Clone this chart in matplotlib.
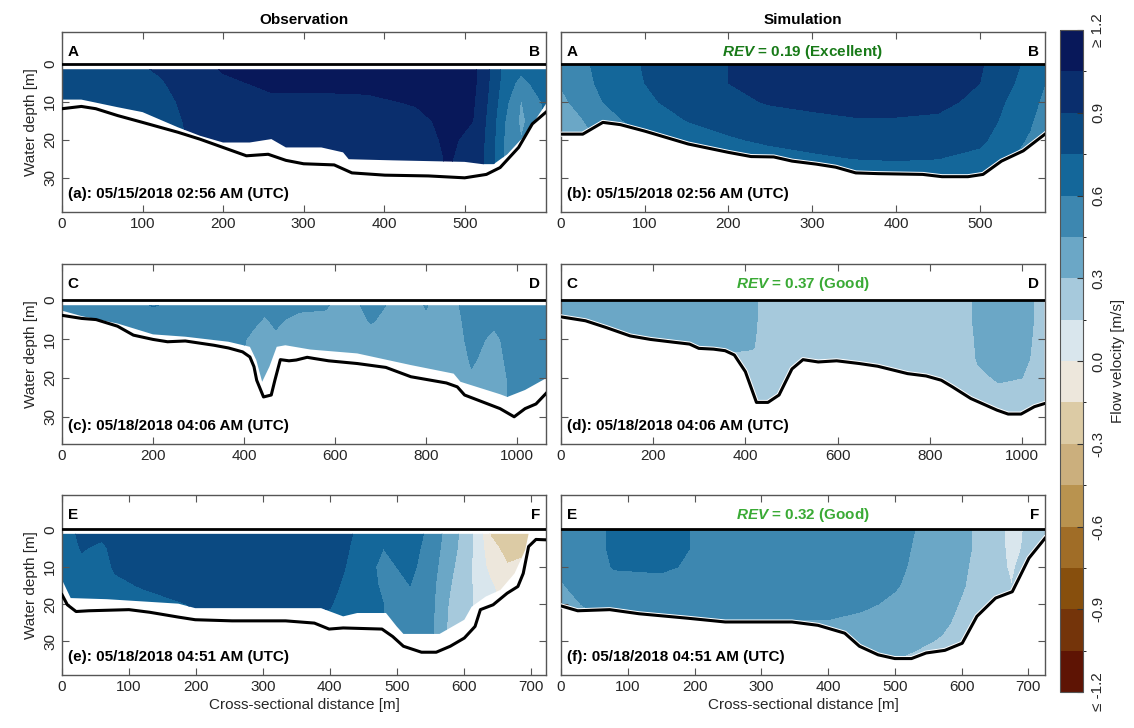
import numpy as np
import matplotlib
matplotlib.use("Agg")
import matplotlib.pyplot as plt
from matplotlib.colors import ListedColormap, BoundaryNorm
from matplotlib.patches import Polygon

plt.rcParams['font.family'] = ['Liberation Sans', 'DejaVu Sans']
plt.rcParams['mathtext.fontset'] = 'custom'
plt.rcParams['mathtext.it'] = 'Liberation Sans:italic:bold'
plt.rcParams['mathtext.rm'] = 'Liberation Sans:bold'

# ---------------- data ----------------
# panel (a) observation, 05/15/2018 02:56
bed_a_x = [0, 24, 42, 69, 100, 144, 171, 200, 229, 256, 278, 300, 338, 360, 401, 455, 500, 527, 544, 567, 584, 601]
bed_a_z = [11.8, 11.2, 11.8, 13.6, 15.4, 18.0, 19.8, 22.0, 24.2, 23.8, 25.4, 26.3, 26.6, 28.7, 29.3, 29.5, 30.0, 29.1, 27.3, 22.0, 15.8, 12.7]
cut_a_x = [0, 24, 69, 100, 144, 171, 200, 233, 260, 278, 322, 349, 356, 411, 500, 522, 536, 553, 576, 601]
cut_a_z = [9.4, 9.4, 11.4, 12.7, 16.7, 18.9, 20.7, 20.7, 19.8, 22.0, 22.0, 23.3, 25.1, 25.4, 25.8, 26.4, 26.4, 23.8, 18.5, 10.5]
grid_a_x = [0, 60, 120, 160, 200, 260, 320, 380, 440, 480, 510, 530, 550, 570, 585, 600]
grid_a_z = [0, 5, 10, 15, 20, 25, 30]
vel_a = [
    [0.82, 0.82, 0.81, 0.80, 0.80, 0.80, 0.80],
    [0.84, 0.83, 0.82, 0.81, 0.80, 0.80, 0.80],
    [0.93, 0.88, 0.85, 0.84, 0.83, 0.83, 0.83],
    [1.00, 0.97, 0.94, 0.92, 0.91, 0.91, 0.91],
    [1.07, 1.03, 0.99, 0.96, 0.95, 0.95, 0.95],
    [1.10, 1.07, 1.03, 0.99, 0.97, 0.96, 0.96],
    [1.12, 1.08, 1.02, 0.99, 0.97, 0.96, 0.96],
    [1.12, 1.08, 1.03, 1.00, 0.98, 0.97, 0.97],
    [1.13, 1.10, 1.06, 1.02, 1.00, 0.99, 0.99],
    [1.14, 1.12, 1.10, 1.08, 1.07, 1.06, 1.06],
    [1.10, 1.09, 1.07, 1.05, 1.02, 1.00, 1.00],
    [0.92, 0.90, 0.88, 0.86, 0.85, 0.85, 0.85],
    [0.70, 0.68, 0.64, 0.60, 0.58, 0.58, 0.58],
    [0.66, 0.55, 0.44, 0.42, 0.45, 0.45, 0.45],
    [0.68, 0.62, 0.55, 0.50, 0.50, 0.50, 0.50],
    [0.70, 0.66, 0.62, 0.60, 0.60, 0.60, 0.60],
]

# panel (b) simulation
bed_b_x = [0, 26, 50, 71, 100, 152, 200, 227, 254, 276, 305, 328, 352, 379, 432, 455, 486, 504, 526, 552, 578]
bed_b_z = [18.5, 18.5, 15.4, 16.0, 17.7, 21.1, 23.3, 24.4, 24.5, 25.6, 26.4, 27.2, 28.7, 28.9, 29.1, 29.7, 29.7, 29.1, 25.6, 22.9, 18.5]
grid_b_x = [0, 25, 50, 100, 150, 200, 250, 300, 350, 400, 450, 500, 530, 560, 578]
grid_b_z = [0, 5, 10, 15, 20, 25, 30]
vel_b = [
    [0.50, 0.46, 0.42, 0.36, 0.32, 0.30, 0.30],
    [0.56, 0.54, 0.50, 0.44, 0.38, 0.35, 0.35],
    [0.66, 0.64, 0.60, 0.54, 0.48, 0.45, 0.45],
    [0.76, 0.75, 0.72, 0.66, 0.56, 0.50, 0.50],
    [0.86, 0.85, 0.81, 0.75, 0.66, 0.55, 0.55],
    [0.90, 0.90, 0.87, 0.81, 0.73, 0.62, 0.60],
    [0.95, 0.94, 0.91, 0.85, 0.78, 0.68, 0.62],
    [0.99, 0.97, 0.93, 0.87, 0.81, 0.72, 0.63],
    [1.00, 0.98, 0.94, 0.89, 0.83, 0.75, 0.64],
    [1.00, 0.98, 0.94, 0.89, 0.83, 0.76, 0.65],
    [0.98, 0.96, 0.93, 0.88, 0.82, 0.75, 0.65],
    [0.92, 0.90, 0.87, 0.83, 0.78, 0.71, 0.62],
    [0.80, 0.78, 0.75, 0.72, 0.68, 0.62, 0.60],
    [0.72, 0.70, 0.66, 0.62, 0.58, 0.55, 0.55],
    [0.62, 0.60, 0.56, 0.52, 0.50, 0.50, 0.50],
]

# panel (c) observation, 05/18/2018 04:06
bed_c_x = [0, 43, 75, 122, 157, 200, 232, 271, 334, 366, 397, 413, 422, 428, 443, 460, 468, 480, 499, 515, 539, 554, 586, 649, 712, 767, 845, 869, 885, 963, 994, 1018, 1042, 1064]
bed_c_z = [3.9, 4.7, 5.0, 6.7, 9.0, 10.1, 10.7, 10.5, 11.6, 12.3, 13.3, 14.6, 17.1, 20.6, 24.9, 24.4, 20.6, 15.3, 15.6, 15.4, 14.7, 15.0, 15.6, 16.3, 17.3, 19.7, 21.3, 22.3, 24.4, 27.9, 30.0, 27.9, 26.7, 24.0]
cut_c_x = [0, 43, 122, 200, 271, 366, 413, 427, 440, 456, 472, 491, 546, 649, 767, 861, 876, 963, 979, 1018, 1064]
cut_c_z = [2.7, 4.1, 6.0, 8.8, 9.4, 10.7, 12.0, 15.4, 21.0, 17.1, 12.0, 11.6, 12.7, 13.7, 16.7, 18.9, 21.0, 24.2, 24.9, 23.1, 20.1]
grid_c_x = [0, 100, 200, 300, 380, 420, 445, 470, 520, 580, 620, 680, 750, 800, 850, 900, 950, 1000, 1064]
grid_c_z = [0, 5, 10, 15, 20, 25, 30]
vel_c = [
    [0.52, 0.52, 0.52, 0.52, 0.52, 0.52, 0.52],
    [0.56, 0.54, 0.53, 0.52, 0.50, 0.50, 0.50],
    [0.62, 0.56, 0.53, 0.52, 0.50, 0.50, 0.50],
    [0.58, 0.54, 0.52, 0.50, 0.49, 0.49, 0.49],
    [0.54, 0.52, 0.50, 0.48, 0.46, 0.46, 0.46],
    [0.52, 0.48, 0.42, 0.40, 0.38, 0.38, 0.38],
    [0.50, 0.44, 0.40, 0.38, 0.37, 0.37, 0.37],
    [0.52, 0.47, 0.43, 0.41, 0.40, 0.40, 0.40],
    [0.50, 0.42, 0.40, 0.39, 0.39, 0.39, 0.39],
    [0.48, 0.42, 0.40, 0.39, 0.39, 0.39, 0.39],
    [0.40, 0.39, 0.38, 0.38, 0.38, 0.38, 0.38],
    [0.50, 0.46, 0.41, 0.39, 0.38, 0.38, 0.38],
    [0.41, 0.39, 0.40, 0.39, 0.38, 0.38, 0.38],
    [0.46, 0.44, 0.40, 0.38, 0.37, 0.37, 0.37],
    [0.40, 0.38, 0.38, 0.38, 0.37, 0.37, 0.37],
    [0.52, 0.50, 0.48, 0.46, 0.44, 0.44, 0.44],
    [0.50, 0.47, 0.43, 0.42, 0.41, 0.41, 0.41],
    [0.52, 0.52, 0.50, 0.49, 0.48, 0.48, 0.48],
    [0.52, 0.52, 0.51, 0.50, 0.50, 0.50, 0.50],
]

# panel (d) simulation
bed_d_x = [0, 53, 97, 150, 194, 243, 279, 299, 331, 356, 376, 400, 424, 449, 473, 501, 525, 558, 598, 647, 687, 752, 792, 825, 849, 889, 946, 970, 998, 1027, 1049]
bed_d_z = [4.3, 5.3, 7.0, 9.2, 10.1, 10.8, 11.3, 12.4, 12.6, 13.0, 14.1, 18.4, 26.3, 26.3, 24.4, 17.7, 15.3, 15.9, 15.6, 16.3, 17.0, 18.9, 19.5, 20.6, 22.3, 25.3, 28.3, 29.3, 29.3, 27.4, 26.6]
grid_d_x = [0, 100, 200, 300, 400, 418, 430, 500, 700, 880, 905, 950, 1000, 1025, 1050]
grid_d_z = [0, 5, 10, 15, 20, 25, 30]
vel_d = [
    [0.36, 0.35, 0.34, 0.33, 0.33, 0.33, 0.33],
    [0.36, 0.35, 0.34, 0.32, 0.30, 0.30, 0.30],
    [0.37, 0.36, 0.34, 0.31, 0.28, 0.28, 0.28],
    [0.37, 0.36, 0.33, 0.29, 0.27, 0.27, 0.27],
    [0.37, 0.36, 0.33, 0.28, 0.26, 0.26, 0.26],
    [0.36, 0.35, 0.32, 0.28, 0.26, 0.26, 0.26],
    [0.27, 0.27, 0.26, 0.25, 0.25, 0.25, 0.25],
    [0.26, 0.26, 0.25, 0.25, 0.25, 0.25, 0.25],
    [0.26, 0.26, 0.25, 0.25, 0.25, 0.25, 0.25],
    [0.27, 0.27, 0.26, 0.26, 0.25, 0.25, 0.25],
    [0.33, 0.33, 0.32, 0.31, 0.28, 0.26, 0.26],
    [0.38, 0.38, 0.37, 0.35, 0.31, 0.27, 0.26],
    [0.37, 0.37, 0.36, 0.34, 0.30, 0.27, 0.26],
    [0.30, 0.30, 0.29, 0.28, 0.27, 0.26, 0.26],
    [0.26, 0.26, 0.26, 0.26, 0.26, 0.26, 0.26],
]

# panel (e) observation, 05/18/2018 04:51
bed_e_x = [0, 8, 21, 40, 100, 131, 174, 199, 254, 334, 377, 399, 420, 478, 494, 510, 537, 559, 580, 601, 617, 625, 644, 665, 681, 689, 697, 708, 723]
bed_e_z = [17.5, 20.2, 22.0, 21.8, 21.5, 22.2, 23.5, 24.2, 24.5, 24.5, 25.1, 26.7, 26.4, 26.7, 28.7, 31.3, 32.9, 32.9, 31.3, 29.1, 26.0, 21.5, 20.2, 17.1, 15.3, 11.8, 4.6, 2.7, 2.8]
cut_e_x = [0, 13, 67, 174, 199, 387, 420, 441, 484, 500, 510, 564, 601, 612, 633, 655, 676, 692, 697]
cut_e_z = [13.5, 18.4, 18.7, 19.9, 21.1, 21.1, 23.3, 22.4, 22.4, 26.0, 28.0, 28.0, 24.2, 20.7, 18.0, 16.2, 11.8, 5.5, 1.2]
grid_e_x = [0, 30, 60, 80, 120, 200, 300, 400, 440, 480, 520, 555, 575, 600, 620, 640, 665, 690, 710]
grid_e_z = [0, 5, 10, 15, 20, 25, 30, 35]
vel_e = [
    [0.70, 0.68, 0.66, 0.62, 0.62, 0.62, 0.62, 0.62],
    [0.78, 0.76, 0.72, 0.68, 0.64, 0.64, 0.64, 0.64],
    [0.80, 0.72, 0.70, 0.68, 0.65, 0.65, 0.65, 0.65],
    [0.82, 0.80, 0.77, 0.72, 0.68, 0.68, 0.68, 0.68],
    [0.85, 0.84, 0.81, 0.76, 0.70, 0.70, 0.70, 0.70],
    [0.86, 0.86, 0.84, 0.80, 0.76, 0.74, 0.74, 0.74],
    [0.87, 0.86, 0.85, 0.82, 0.78, 0.76, 0.76, 0.76],
    [0.84, 0.83, 0.82, 0.79, 0.76, 0.72, 0.72, 0.72],
    [0.74, 0.72, 0.70, 0.68, 0.66, 0.64, 0.64, 0.64],
    [0.66, 0.60, 0.56, 0.58, 0.60, 0.60, 0.60, 0.60],
    [0.68, 0.66, 0.64, 0.60, 0.56, 0.54, 0.54, 0.54],
    [0.55, 0.52, 0.49, 0.47, 0.46, 0.45, 0.45, 0.45],
    [0.40, 0.38, 0.36, 0.33, 0.31, 0.30, 0.30, 0.30],
    [0.26, 0.25, 0.22, 0.20, 0.17, 0.17, 0.17, 0.17],
    [0.10, 0.10, 0.10, 0.12, 0.14, 0.14, 0.14, 0.14],
    [-0.18, -0.10, -0.05, 0.02, 0.05, 0.05, 0.05, 0.05],
    [-0.22, -0.20, -0.14, -0.08, -0.05, -0.05, -0.05, -0.05],
    [-0.20, -0.18, -0.12, -0.08, -0.06, -0.06, -0.06, -0.06],
    [-0.20, -0.18, -0.12, -0.08, -0.06, -0.06, -0.06, -0.06],
]

# panel (f) simulation
bed_f_x = [0, 25, 73, 117, 190, 246, 346, 385, 425, 447, 475, 500, 525, 547, 575, 601, 623, 651, 676, 701, 725]
bed_f_z = [20.5, 21.8, 21.5, 22.6, 23.8, 24.8, 24.8, 25.7, 27.8, 31.3, 33.6, 34.6, 34.6, 33.1, 32.4, 30.5, 23.3, 18.4, 16.7, 7.7, 2.4]
grid_f_x = [0, 30, 60, 80, 150, 200, 300, 400, 450, 500, 530, 570, 610, 640, 660, 675, 690, 705, 725]
grid_f_z = [0, 5, 10, 15, 20, 25, 30, 35]
vel_f = [
    [0.50, 0.49, 0.47, 0.44, 0.41, 0.40, 0.40, 0.40],
    [0.55, 0.54, 0.52, 0.49, 0.45, 0.42, 0.42, 0.42],
    [0.58, 0.58, 0.57, 0.53, 0.48, 0.44, 0.44, 0.44],
    [0.63, 0.63, 0.61, 0.55, 0.49, 0.44, 0.44, 0.44],
    [0.66, 0.66, 0.62, 0.56, 0.50, 0.44, 0.44, 0.44],
    [0.59, 0.59, 0.58, 0.55, 0.51, 0.44, 0.44, 0.44],
    [0.58, 0.57, 0.56, 0.54, 0.51, 0.44, 0.44, 0.44],
    [0.56, 0.55, 0.54, 0.53, 0.50, 0.44, 0.40, 0.40],
    [0.55, 0.54, 0.53, 0.51, 0.47, 0.42, 0.36, 0.32],
    [0.50, 0.49, 0.48, 0.46, 0.43, 0.39, 0.34, 0.30],
    [0.45, 0.44, 0.43, 0.42, 0.40, 0.37, 0.32, 0.28],
    [0.40, 0.40, 0.39, 0.38, 0.35, 0.32, 0.29, 0.27],
    [0.31, 0.31, 0.30, 0.29, 0.27, 0.26, 0.26, 0.26],
    [0.25, 0.25, 0.24, 0.22, 0.21, 0.21, 0.21, 0.21],
    [0.17, 0.17, 0.17, 0.16, 0.16, 0.16, 0.16, 0.16],
    [0.10, 0.11, 0.13, 0.15, 0.15, 0.15, 0.15, 0.15],
    [0.14, 0.15, 0.18, 0.20, 0.20, 0.20, 0.20, 0.20],
    [0.20, 0.21, 0.22, 0.22, 0.22, 0.22, 0.22, 0.22],
    [0.22, 0.22, 0.22, 0.22, 0.22, 0.22, 0.22, 0.22],
]

dates = ["05/15/2018 02:56 AM (UTC)", "05/18/2018 04:06 AM (UTC)", "05/18/2018 04:51 AM (UTC)"]
rev_values = [0.19, 0.37, 0.32]
rev_classes = ["Excellent", "Good", "Good"]
section_ends = [("A", "B"), ("C", "D"), ("E", "F")]

levels = [-1.2, -1.05, -0.9, -0.75, -0.6, -0.45, -0.3, -0.15, 0.0,
          0.15, 0.3, 0.45, 0.6, 0.75, 0.9, 1.05, 1.2]
band_colors = ['#5e1404', '#74340a', '#874f0d', '#a06d27', '#b9934f', '#cbaf7d',
               '#dccba5', '#ede7dc', '#d9e6ed', '#a6c9dc', '#6ba7c6', '#3d87b0',
               '#14679a', '#0b4a82', '#0a2e6d', '#08185a']
cmap = ListedColormap(band_colors)
norm = BoundaryNorm(levels, cmap.N)
rev_colors = {"Excellent": "#187a18", "Good": "#3aaa35"}

# ---------------- layout ----------------
W, H = 1134, 728
fig = plt.figure(figsize=(W / 100, H / 100), dpi=100)
col_left = [62, 561]
col_w = 484
row_top = [32, 264, 495]
row_h = 180
xlims = [601, 578, 1064, 1050, 723, 725]
ylims = [(39, -8.4), (39, -8.4), (37, -9.3), (37, -9.3), (39, -9.2), (39, -9.2)]
xticks = [np.arange(0, 501, 100), np.arange(0, 1001, 200), np.arange(0, 701, 100)]

panels = [
    (grid_a_x, grid_a_z, vel_a, cut_a_x, cut_a_z, 1.4, bed_a_x, bed_a_z),
    (grid_b_x, grid_b_z, vel_b, bed_b_x, bed_b_z, 0.0, bed_b_x, bed_b_z),
    (grid_c_x, grid_c_z, vel_c, cut_c_x, cut_c_z, 1.3, bed_c_x, bed_c_z),
    (grid_d_x, grid_d_z, vel_d, bed_d_x, bed_d_z, 0.0, bed_d_x, bed_d_z),
    (grid_e_x, grid_e_z, vel_e, cut_e_x, cut_e_z, 1.2, bed_e_x, bed_e_z),
    (grid_f_x, grid_f_z, vel_f, bed_f_x, bed_f_z, 0.0, bed_f_x, bed_f_z),
]

edge = '#555555'
for i, (gx, gz, vel, cx, cz, top, bx, bz) in enumerate(panels):
    row, col = i // 2, i % 2
    ax = fig.add_axes([col_left[col] / W, 1 - (row_top[row] + row_h) / H, col_w / W, row_h / H])
    V = np.array(vel).T
    cs = ax.contourf(gx, gz, V, levels=levels, cmap=cmap, norm=norm)
    verts = [(cx[0], top), (cx[-1], top)] + list(zip(cx[::-1], cz[::-1]))
    clip = Polygon(verts, closed=True, transform=ax.transData, facecolor='none', edgecolor='none')
    ax.add_patch(clip)
    cs.set_clip_path(clip)
    if col == 1:
        ax.plot(bx, bz, color='white', lw=3.6, zorder=3)
    ax.plot(bx, bz, color='black', lw=2.2, zorder=4, solid_joinstyle='round')
    ax.axhline(0, color='black', lw=2.0, zorder=4)

    ax.set_xlim(0, xlims[i])
    ax.set_ylim(*ylims[i])
    ax.set_xticks(xticks[row])
    ax.set_yticks([0, 10, 20, 30])
    ax.tick_params(direction='in', top=True, right=True, length=5, width=0.8,
                   color=edge, labelsize=11, labelcolor='#262626')
    for s in ax.spines.values():
        s.set_color(edge)
        s.set_linewidth(1.0)
    if col == 0:
        for lab in ax.get_yticklabels():
            lab.set_rotation(90)
            lab.set_va('center')
        ax.set_ylabel("Water depth [m]", fontsize=11, color='#262626', labelpad=4)
    else:
        ax.set_yticklabels([])
    if row == 2:
        ax.set_xlabel("Cross-sectional distance [m]", fontsize=11, color='#262626', labelpad=3)

    left_lab, right_lab = section_ends[row]
    ax.text(0.012, 0.89, left_lab, transform=ax.transAxes, fontsize=11, fontweight='bold',
            ha='left', va='center')
    ax.text(0.988, 0.89, right_lab, transform=ax.transAxes, fontsize=11, fontweight='bold',
            ha='right', va='center')
    letter = "abcdef"[i]
    ax.text(0.012, 0.1, "(%s): %s" % (letter, dates[row]), transform=ax.transAxes,
            fontsize=11, fontweight='bold', ha='left', va='center')
    if col == 1:
        cls = rev_classes[row]
        ax.text(0.5, 0.89, "$REV$ = %.2f (%s)" % (rev_values[row], cls), transform=ax.transAxes,
                fontsize=11, fontweight='bold', color=rev_colors[cls], ha='center', va='center')
    if row == 0:
        ax.set_title("Observation" if col == 0 else "Simulation", fontsize=11,
                     fontweight='bold', pad=6)

# ---------------- colorbar ----------------
cax = fig.add_axes([1060 / W, 1 - 692 / H, 23 / W, 662 / H])
sm = plt.cm.ScalarMappable(cmap=cmap, norm=norm)
cb = fig.colorbar(sm, cax=cax, boundaries=levels, ticks=[-1.2, -0.9, -0.6, -0.3, 0.0, 0.3, 0.6, 0.9, 1.2])
cb.outline.set_edgecolor(edge)
cb.outline.set_linewidth(0.8)
cb.ax.set_yticklabels(["\u2264 -1.2", "-0.9", "-0.6", "-0.3", "0.0", "0.3", "0.6", "0.9", "\u2265 1.2"],
                      rotation=90, va='center')
cb.ax.tick_params(direction='in', length=4, width=0.8, color='#333333', labelsize=11,
                  labelcolor='#262626', pad=6)
cb.set_label("Flow velocity [m/s]", fontsize=11, color='#262626', labelpad=4)

fig.savefig("out.png", dpi=100)
